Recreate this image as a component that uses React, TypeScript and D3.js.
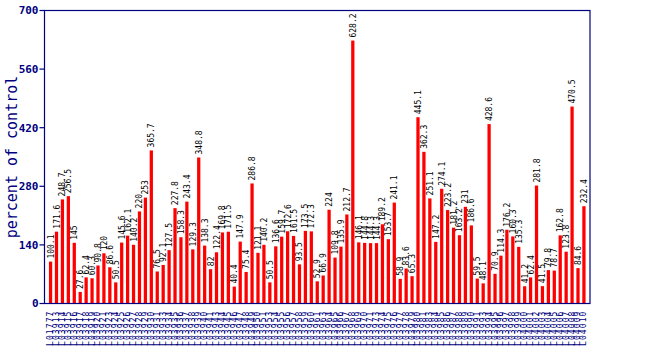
import React from "react";
import * as d3 from "d3";

const values: number[] = [
  100.1, 171.6, 248.7, 256.5, 145, 27.6, 62.4, 60.3, 90.8, 120, 86.6, 50.5, 145.6, 162.1, 140.2, 220, 253, 365.7,
  76.5, 92.1, 127.5, 227.8, 158.3, 243.4, 129.3, 348.8, 138.3, 82, 122.4, 169.8, 171.5, 40.4, 147.9, 75.4, 286.8,
  121.1, 140.2, 50.5, 136.6, 159.7, 172.6, 161.5, 93.5, 173.5, 172.3, 52.9, 66.9, 224, 109.8, 135.9, 212.7, 628.2,
  146.1, 144.8, 144.3, 144.3, 189.2, 153.7, 241.1, 58.9, 83.6, 65.3, 445.1, 362.3, 251.1, 147.2, 274.1, 223.2,
  181.2, 163.2, 231, 186.6, 59.5, 48.1, 428.6, 70.9, 114.3, 176.2, 160.3, 135.3, 41.2, 62.4, 281.8, 41.5, 79.8,
  78.7, 162.8, 123.8, 470.5, 84.6, 232.4,
];

const categories: string[] = [
  "L01777",
  "L03913", "L03914", "L03915", "L03916", "L03917", "L03918", "L03919", "L03920", "L03921",
  "L03923", "L03924", "L03925", "L03926", "L03927", "L03928", "L03929", "L03930", "L03931",
  "L03933", "L03934", "L03935", "L03936", "L03937", "L03938", "L03939", "L03940", "L03941",
  "L03943", "L03944", "L03945", "L03946", "L03947", "L03948", "L03949", "L03950", "L03951",
  "L03953", "L03954", "L03955", "L03956", "L03957", "L03958", "L03959", "L03960", "L03961",
  "L03963", "L03964", "L03965", "L03966", "L03967", "L03968", "L03969", "L03970", "L03971",
  "L03973", "L03974", "L03975", "L03976", "L03977", "L03978", "L03979", "L03980", "L03981",
  "L03983", "L03984", "L03985", "L03986", "L03987", "L03988", "L03989", "L03990", "L03991",
  "L03993", "L03994", "L03995", "L03996", "L03997", "L03998", "L03999", "L04000", "L04001",
  "L04002", "L04003", "L04004", "L04005", "L04006", "L04007", "L04008", "L04009", "L04010",
];

const yTicks: number[] = [0, 140, 280, 420, 560, 700];
const yTitle = "percent of control";

const W = 650;
const H = 350;
const M = { left: 44.5, right: 60, top: 10.5, bottom: 46.5 };
const NAVY = "#000080";
const FONT = "'DejaVu Sans Mono', monospace";

export default function App() {
  const x = d3
    .scaleBand<string>()
    .domain(categories)
    .range([M.left, W - M.right])
    .paddingInner(0.45)
    .paddingOuter(0.75);
  const y = d3.scaleLinear().domain([0, 700]).range([H - M.bottom, M.top]);
  const fmt = (v: number) => String(v);

  return (
    <svg
      width={W}
      height={H}
      style={{ position: "absolute", left: 0, top: 0, background: "#fff" }}
    >
      {values.map((v, i) => (
        <rect
          key={"b" + i}
          x={x(categories[i])!}
          y={y(v)}
          width={x.bandwidth()}
          height={y(0) - y(v)}
          fill="#ff0000"
        />
      ))}
      {values.map((v, i) => {
        const cx = x(categories[i])! + x.bandwidth() / 2;
        const ty = y(v) - 3;
        return (
          <text
            key={"v" + i}
            transform={`translate(${cx + 3},${ty}) rotate(-90)`}
            fontFamily={FONT}
            fontSize={8}
            fill="#000"
          >
            {fmt(v)}
          </text>
        );
      })}
      <rect
        x={M.left}
        y={M.top}
        width={W - M.right - M.left}
        height={H - M.bottom - M.top}
        fill="none"
        stroke={NAVY}
        strokeWidth={1.2}
      />
      {yTicks.map((t) => (
        <g key={"t" + t}>
          <line x1={M.left - 5} x2={M.left} y1={y(t)} y2={y(t)} stroke={NAVY} strokeWidth={1.2} />
          <text
            x={M.left - 6}
            y={y(t)}
            dy="0.35em"
            textAnchor="end"
            fontFamily={FONT}
            fontWeight="bold"
            fontSize={11}
            fill={NAVY}
          >
            {t}
          </text>
        </g>
      ))}
      <text
        transform={`translate(${12},${(M.top + H - M.bottom) / 2}) rotate(-90)`}
        textAnchor="middle"
        dy="0.35em"
        fontFamily={FONT}
        fontSize={15}
        fill={NAVY}
      >
        {yTitle}
      </text>
      {categories.map((c) => {
        const cx = x(c)! + x.bandwidth() / 2;
        return (
          <text
            key={"c" + c}
            transform={`translate(${cx + 2.5},${H - M.bottom + 7}) rotate(-90)`}
            textAnchor="end"
            fontFamily={FONT}
            fontSize={8}
            letterSpacing={1.1}
            fill={NAVY}
          >
            {c}
          </text>
        );
      })}
    </svg>
  );
}
